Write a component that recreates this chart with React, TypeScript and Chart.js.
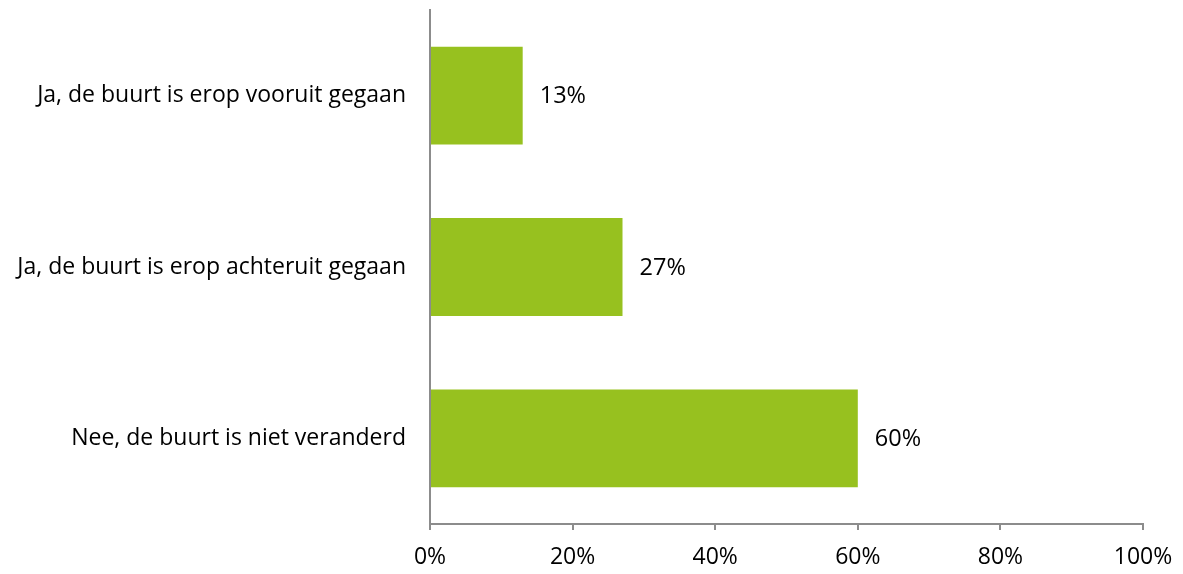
import React, { useEffect, useRef } from "react";
import { Chart, registerables } from "chart.js";

Chart.register(...registerables);

const categories = [
  "Ja, de buurt is erop vooruit gegaan",
  "Ja, de buurt is erop achteruit gegaan",
  "Nee, de buurt is niet veranderd",
];
const values = [13, 27, 60];
const xTicks = [0, 20, 40, 60, 80, 100];

const FONT = "'Open Sans', sans-serif";
const SIZE = 23;
const LABEL_SIZE = 23.5;

const labelPlugin = {
  id: "barLabels",
  afterDatasetsDraw(chart: any) {
    const ctx = chart.ctx;
    const meta = chart.getDatasetMeta(0);
    ctx.save();
    ctx.font = `${LABEL_SIZE}px ${FONT}`;
    ctx.fillStyle = "#000";
    ctx.textAlign = "left";
    ctx.textBaseline = "middle";
    meta.data.forEach((bar: any, i: number) => {
      ctx.fillText(`${values[i]}%`, bar.x + 17, bar.y + 1);
    });
    ctx.restore();
  },
};

export default function App() {
  const ref = useRef<HTMLCanvasElement>(null);
  useEffect(() => {
    document.body.style.margin = "0";
    const chart = new Chart(ref.current!, {
      type: "bar",
      data: {
        labels: categories,
        datasets: [
          {
            data: values,
            backgroundColor: "#97C11F",
            borderWidth: 0,
            barPercentage: 0.571,
            categoryPercentage: 1,
          },
        ],
      },
      options: {
        indexAxis: "y",
        animation: false,
        responsive: false,
        maintainAspectRatio: false,
        layout: { padding: { left: 0, right: 40, top: 10, bottom: 0 } },
        plugins: { legend: { display: false }, tooltip: { enabled: false } },
        scales: {
          x: {
            min: 0,
            max: 100,
            afterBuildTicks: (scale: any) => {
              scale.ticks = xTicks.map((v) => ({ value: v }));
            },
            afterFit: (scale: any) => {
              scale.height = 50;
              scale.paddingLeft = 0;
              scale.paddingRight = 0;
            },
            ticks: {
              callback: (v: any) => `${v}%`,
              font: { family: FONT, size: SIZE },
              color: "#000",
              padding: 14,
              maxRotation: 0,
            },
            grid: {
              drawOnChartArea: false,
              drawTicks: true,
              tickLength: 6,
              color: "#8c8c8c",
              lineWidth: 2,
            },
            border: { display: true, color: "#8c8c8c", width: 2 },
          },
          y: {
            afterFit: (scale: any) => {
              scale.width = 430;
              scale.paddingTop = 0;
              scale.paddingBottom = 0;
            },
            ticks: {
              font: { family: FONT, size: SIZE },
              color: "#000",
              padding: 24,
            },
            grid: { display: false, drawTicks: false },
            border: { display: true, color: "#8c8c8c", width: 2 },
          },
        },
      },
      plugins: [labelPlugin],
    });
    return () => chart.destroy();
  }, []);
  return (
    <div style={{ width: 1183, height: 574 }}>
      <canvas ref={ref} width={1183} height={574} style={{ width: 1183, height: 574 }} />
    </div>
  );
}
